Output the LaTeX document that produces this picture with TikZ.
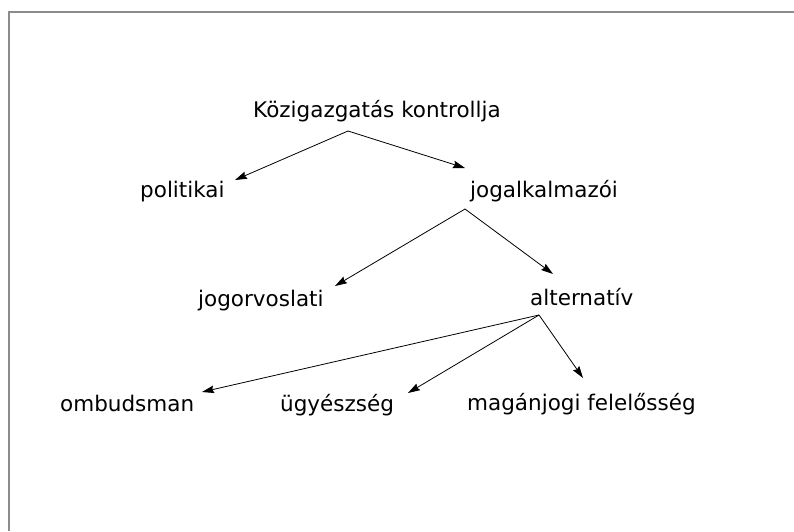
\documentclass[tikz,border=0pt]{standalone}
\usepackage{fontspec}
\setmainfont{DejaVu Sans}
\usetikzlibrary{arrows.meta,calc}
\tikzset{
  lbl/.style={anchor=base west, inner sep=0pt, font=\fontsize{21.5}{26}\selectfont},
  conn/.style={draw=black, line width=0.8pt, -{Stealth[length=12pt,width=7.5pt,inset=1.5pt]}},
  frame/.style={draw=black!45, line width=1.3pt}
}
\begin{document}
\begin{tikzpicture}[x=1pt,y=-1pt]
\useasboundingbox (0,0) rectangle (794,531);
\draw[frame] (9,531) -- (9,12) -- (794,12);

\node[lbl] (root) at (253,117) {Közigazgatás kontrollja};
\node[lbl] (pol)  at (140,197) {politikai};
\node[lbl] (jog)  at (470,197) {jogalkalmazói};
\node[lbl] (jorv) at (198,306) {jogorvoslati};
\node[lbl] (alt)  at (530,305) {alternatív};
\node[lbl] (omb)  at (60,411)  {ombudsman};
\node[lbl] (ugy)  at (280,411) {ügyészség};
\node[lbl] (mag)  at (467,410) {magánjogi felelősség};

\draw[conn] ($(root.base west)+(95,14)$) -- ($(pol.base west)+(95,-17)$);
\draw[conn] ($(root.base west)+(95,14)$) -- ($(jog.base west)+(-5,-29)$);
\draw[conn] ($(jog.base west)+(-5,12)$) -- ($(jorv.base west)+(137,-20)$);
\draw[conn] ($(jog.base west)+(-5,12)$) -- ($(alt.base west)+(23,-31)$);
\draw[conn] ($(alt.base west)+(9,10)$) -- ($(omb.base west)+(142,-19)$);
\draw[conn] ($(alt.base west)+(9,10)$) -- ($(ugy.base west)+(128,-18)$);
\draw[conn] ($(alt.base west)+(9,10)$) -- ($(mag.base west)+(116,-32)$);
\end{tikzpicture}
\end{document}
